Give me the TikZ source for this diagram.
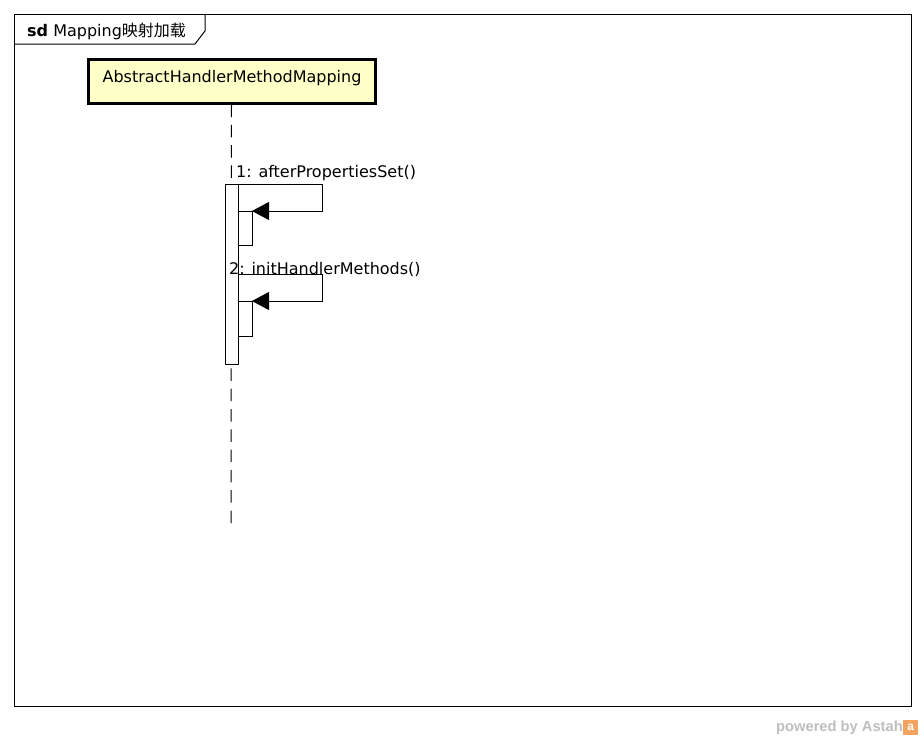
\documentclass[tikz,border=0pt]{standalone}
\usepackage{fontspec}
\setmainfont{DejaVu Sans}
\newfontfamily\cjk{Noto Sans CJK SC}
\newfontfamily\logofont{Liberation Sans}
\usepackage{tikz}
\usetikzlibrary{positioning,calc,arrows.meta}
\definecolor{classfill}{HTML}{FFFFC8}
\definecolor{astahgrey}{HTML}{BEBEBE}
\definecolor{astahorange}{HTML}{F4A460}

\begin{document}
\begin{tikzpicture}[x=1pt,y=-1pt,
    every node/.style={font=\fontsize{16}{18}\selectfont},
    classbox/.style={draw,line width=3pt,fill=classfill,minimum width=287pt,minimum height=44pt,inner sep=0pt},
    actbar/.style={draw,fill=white,line width=1pt},
    msg/.style={line width=1pt},
    call/.style={msg,-{Triangle[length=17pt,width=18pt]}},
    lifeline/.style={line width=1pt,dash pattern=on 12.5pt off 7.8pt}]
    \useasboundingbox (0,0) rectangle (924,739);
    % Frame
    \draw[line width=1pt] (14,14) rectangle (911,706);
    \draw[line width=1pt] (14,44) -- (195,44) -- (205,31) -- (205,14);
    \node[anchor=west,inner sep=0pt] (title) at (27,31) {\textbf{sd} Mapping{\cjk 映射加载}};
    % Lifeline
    \node[classbox] (ahmm) at (231.5,81) {};
    \node (ahmmlabel) at (232,78) {AbstractHandlerMethodMapping};
    \coordinate (llend) at (231,523);
    \draw[lifeline] (ahmm.south) -- (llend);
    % Activations
    \draw[actbar] (225,184) rectangle (238,364);
    \draw[actbar] (238,211) rectangle (252,245);
    \draw[actbar] (238,301) rectangle (252,336);
    % Messages
    \coordinate (m1s) at (238,184);
    \coordinate (m1t) at (252,211);
    \draw[call] (m1s) -- (322,184) -- (322,211) -- (m1t);
    \node[anchor=base west,inner sep=0pt] (m1) at (236,177) {1: afterPropertiesSet()};
    \coordinate (m2s) at (238,274);
    \coordinate (m2t) at (252,301);
    \draw[call] (m2s) -- (322,274) -- (322,301) -- (m2t);
    \node[anchor=base west,inner sep=0pt] (m2) at (229,274) {2: initHandlerMethods()};
    % Logo
    \node[anchor=base east,inner sep=0pt,text=astahgrey,font=\logofont\fontsize{14.7}{16}\selectfont\bfseries] (powered) at (903,731) {powered by Astah};
    \node[right=0pt of powered.east,anchor=west,fill=astahorange,minimum size=15pt,inner sep=0pt,text=white,font=\logofont\fontsize{12}{12}\selectfont\bfseries] (logo) {a};
\end{tikzpicture}
\end{document}
